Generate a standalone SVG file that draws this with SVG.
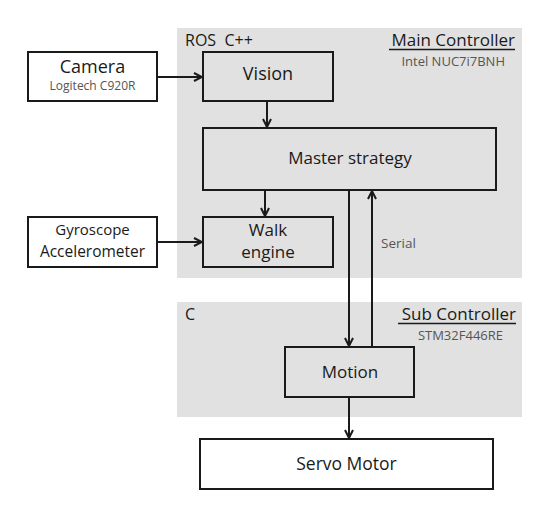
<svg xmlns="http://www.w3.org/2000/svg" width="546" height="514" viewBox="0 0 546 514">
<defs>
<style>
text{font-family:"Open Sans","Noto Sans","DejaVu Sans",sans-serif;fill:#1a1a1a}
.box{fill:none;stroke:#1a1a1a;stroke-width:2}
.wbox{fill:#fff;stroke:#1a1a1a;stroke-width:2}
.panel{fill:#e1e1e1}
.lbl{font-size:17px;text-anchor:middle}
.sub{font-size:12px;fill:#555;text-anchor:middle}
.hdr{font-size:17px;text-anchor:end}
.hsub{font-size:13px;fill:#555;text-anchor:end}
.lang{font-size:16px}
.conn{stroke:#1a1a1a;stroke-width:2;fill:none;marker-end:url(#ah)}
.ul{stroke:#1a1a1a;stroke-width:1.3}
</style>
<marker id="ah" viewBox="0 0 10 10" refX="9" refY="5" markerWidth="10" markerHeight="10" markerUnits="userSpaceOnUse" orient="auto">
<path d="M1,1 L9,5 L1,9" fill="none" stroke="#1a1a1a" stroke-width="2"/>
</marker>
</defs>
<rect width="546" height="514" fill="#fff"/>
<g id="main-controller">
<rect class="panel" x="177" y="28" width="345" height="250"/>
<text class="lang" x="185" y="46" xml:space="preserve">ROS  C++</text>
<text class="hdr" x="515" y="46">Main Controller</text>
<line class="ul" x1="389" y1="49.5" x2="515" y2="49.5"/>
<text class="hsub" x="505" y="66">Intel NUC7i7BNH</text>
</g>
<g id="sub-controller">
<rect class="panel" x="177" y="302" width="345" height="115"/>
<text class="lang" x="185" y="320">C</text>
<text class="hdr" x="516" y="320">Sub Controller</text>
<line class="ul" x1="398" y1="323.5" x2="516" y2="323.5"/>
<text class="hsub" x="503" y="340">STM32F446RE</text>
</g>
<g id="camera">
<rect class="wbox" x="28" y="52" width="129" height="49"/>
<text class="lbl" x="92.5" y="73" style="font-size:18px">Camera</text>
<text class="sub" x="92.5" y="90">Logitech C920R</text>
</g>
<g id="gyro">
<rect class="wbox" x="28" y="217" width="129" height="50"/>
<text class="lbl" x="92.5" y="235" style="font-size:15px">Gyroscope</text>
<text class="lbl" x="92.5" y="257" style="font-size:15.5px">Accelerometer</text>
</g>
<g id="vision">
<rect class="box" x="203" y="52" width="130" height="49"/>
<text class="lbl" x="268" y="80" style="font-size:18px">Vision</text>
</g>
<g id="master-strategy">
<rect class="box" x="203" y="128" width="293" height="62"/>
<text class="lbl" x="350" y="164">Master strategy</text>
</g>
<g id="walk-engine">
<rect class="box" x="203" y="217" width="130" height="50"/>
<text class="lbl" x="268" y="236">Walk</text>
<text class="lbl" x="268" y="258">engine</text>
</g>
<g id="motion">
<rect class="box" x="285" y="347" width="129" height="50"/>
<text class="lbl" x="350" y="378">Motion</text>
</g>
<g id="servo-motor">
<rect class="wbox" x="200" y="439" width="293" height="50"/>
<text class="lbl" x="346.5" y="470" style="font-size:17.5px">Servo Motor</text>
</g>
<g id="connectors">
<line class="conn" x1="157" y1="77" x2="202" y2="77"/>
<line class="conn" x1="267" y1="101" x2="267" y2="127"/>
<line class="conn" x1="265" y1="190" x2="265" y2="216"/>
<line class="conn" x1="157" y1="242" x2="202" y2="242"/>
<line class="conn" x1="349" y1="190" x2="349" y2="346"/>
<line class="conn" x1="372" y1="347" x2="372" y2="191"/>
<line class="conn" x1="349" y1="397" x2="349" y2="438"/>
<text x="381" y="248" style="font-size:13.5px;fill:#555">Serial</text>
</g>
</svg>
